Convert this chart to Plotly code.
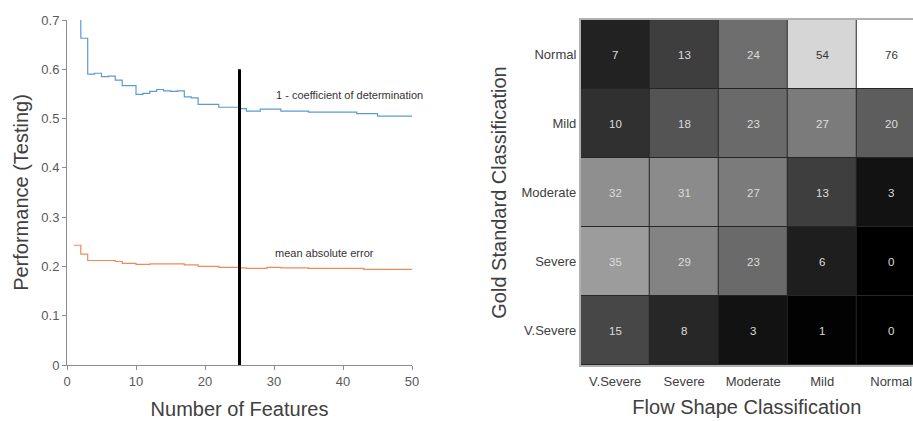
import plotly.graph_objects as go

# ---- feature-selection curves (testing performance vs number of features) ----
n_features = list(range(1, 51))

one_minus_r2 = [
    0.780, 0.663, 0.590, 0.592, 0.585, 0.586, 0.578, 0.567, 0.567, 0.549,
    0.551, 0.555, 0.559, 0.556, 0.555, 0.556, 0.544, 0.542, 0.529, 0.529,
    0.529, 0.523, 0.523, 0.523, 0.520, 0.515, 0.515, 0.519, 0.519, 0.519,
    0.515, 0.515, 0.515, 0.515, 0.513, 0.513, 0.513, 0.513, 0.513, 0.513,
    0.513, 0.510, 0.510, 0.510, 0.505, 0.505, 0.505, 0.505, 0.505, 0.505,
]

mean_abs_error = [
    0.243, 0.225, 0.212, 0.212, 0.212, 0.212, 0.210, 0.206, 0.206, 0.204,
    0.204, 0.205, 0.205, 0.205, 0.205, 0.205, 0.203, 0.203, 0.200, 0.200,
    0.200, 0.198, 0.198, 0.198, 0.197, 0.196, 0.196, 0.196, 0.198, 0.198,
    0.197, 0.197, 0.197, 0.197, 0.196, 0.196, 0.196, 0.196, 0.196, 0.196,
    0.196, 0.196, 0.194, 0.194, 0.194, 0.194, 0.194, 0.194, 0.194, 0.194,
]

selected_features = 25
cutoff_line_top = 0.6

# ---- confusion matrix: gold standard (rows) vs flow shape (columns) ----
flow_classes = ["V.Severe", "Severe", "Moderate", "Mild", "Normal"]
gold_classes = ["Normal", "Mild", "Moderate", "Severe", "V.Severe"]
counts = [
    [7, 13, 24, 54, 76],
    [10, 18, 23, 27, 20],
    [32, 31, 27, 13, 3],
    [35, 29, 23, 6, 0],
    [15, 8, 3, 1, 0],
]

FONT = "Liberation Sans, Arial, sans-serif"
TICK_COLOR = "#595959"
TITLE_COLOR = "#404040"

# grey ramp used for the count cells (count -> grey level)
zmax = 76
grey_ramp = [(0, 0), (1, 2), (3, 18), (7, 34), (13, 62), (24, 110),
             (35, 156), (54, 214), (76, 255)]
colorscale = [[c / zmax, f"rgb({g},{g},{g})"] for c, g in grey_ramp]


def grey_of(v):
    for (c0, g0), (c1, g1) in zip(grey_ramp[:-1], grey_ramp[1:]):
        if c0 <= v <= c1:
            return g0 + (g1 - g0) * (v - c0) / (c1 - c0)
    return 255


n_rows, n_cols = len(gold_classes), len(flow_classes)

fig = go.Figure()

fig.add_trace(go.Scatter(
    x=n_features, y=one_minus_r2, mode="lines", line_shape="hv",
    line=dict(color="#5b9bd5", width=1.2), showlegend=False,
    xaxis="x", yaxis="y"))
fig.add_trace(go.Scatter(
    x=n_features, y=mean_abs_error, mode="lines", line_shape="hv",
    line=dict(color="#ef8a5c", width=1.2), showlegend=False,
    xaxis="x", yaxis="y"))
fig.add_trace(go.Scatter(
    x=[selected_features, selected_features], y=[0, cutoff_line_top],
    mode="lines", line=dict(color="black", width=3), showlegend=False,
    xaxis="x", yaxis="y"))

fig.add_trace(go.Heatmap(
    z=counts, x=list(range(n_cols)), y=list(range(n_rows)),
    colorscale=colorscale, zmin=0, zmax=zmax, showscale=False,
    xgap=1, ygap=1, hoverinfo="skip", xaxis="x2", yaxis="y2"))

# dark backing behind the heatmap so the cell gaps read as thin borders
shapes = [dict(type="rect", xref="x2", yref="y2", layer="below",
               x0=-0.5, x1=n_cols - 0.5, y0=-0.5, y1=n_rows - 0.5,
               fillcolor="#262626", line=dict(width=0))]

annotations = []
for r, row in enumerate(counts):
    for c, v in enumerate(row):
        annotations.append(dict(
            x=c, y=r, xref="x2", yref="y2", text=str(v), showarrow=False,
            font=dict(family=FONT, size=11.5,
                      color="#333333" if grey_of(v) > 180 else "#dddddd")))

annotations += [
    dict(x=41, y=0.548, xref="x", yref="y", text="1 - coefficient of determination",
         showarrow=False, font=dict(family=FONT, size=11, color="#333333")),
    dict(x=37.3, y=0.228, xref="x", yref="y", text="mean absolute error",
         showarrow=False, font=dict(family=FONT, size=11, color="#333333")),
]

fig.update_layout(
    width=913, height=421,
    margin=dict(l=0, r=0, t=0, b=0, autoexpand=False),
    paper_bgcolor="white", plot_bgcolor="white",
    font=dict(family=FONT, color=TICK_COLOR),
    annotations=annotations, shapes=shapes,
    xaxis=dict(
        domain=[67 / 913, 412 / 913], range=[0, 50], anchor="y",
        tickvals=[0, 10, 20, 30, 40, 50], ticks="outside", ticklen=4,
        tickcolor="#8c8c8c", showline=True, linecolor="#8c8c8c", linewidth=1,
        showgrid=False, zeroline=False, automargin=False,
        tickfont=dict(size=13, color=TICK_COLOR),
        title=dict(text="Number of Features", standoff=14,
                   font=dict(size=20, color=TITLE_COLOR))),
    yaxis=dict(
        domain=[56 / 421, 401 / 421], range=[0, 0.7], anchor="x",
        tickvals=[0, 0.1, 0.2, 0.3, 0.4, 0.5, 0.6, 0.7], ticks="outside", ticklen=4,
        tickcolor="#8c8c8c", showline=True, linecolor="#8c8c8c", linewidth=1,
        showgrid=False, zeroline=False, automargin=False,
        tickfont=dict(size=13, color=TICK_COLOR),
        title=dict(text="Performance (Testing)", standoff=7,
                   font=dict(size=20, color=TITLE_COLOR))),
    xaxis2=dict(
        domain=[580.7 / 913, 1.0], range=[-0.5, 4.316], anchor="y2",
        tickvals=list(range(n_cols)), ticktext=flow_classes,
        ticks="", ticklabelstandoff=4,
        showline=True, mirror=True, linecolor="#b0b0b0", linewidth=1.5,
        showgrid=False, zeroline=False, automargin=False,
        tickfont=dict(size=13, color="#404040"),
        title=dict(text="Flow Shape Classification", standoff=12,
                   font=dict(size=20, color=TITLE_COLOR))),
    yaxis2=dict(
        domain=[56 / 421, 401 / 421], range=[4.5, -0.5], anchor="x2",
        tickvals=list(range(n_rows)), ticktext=gold_classes,
        ticks="", showline=True, linecolor="#b0b0b0", linewidth=1.5,
        showgrid=False, zeroline=False, automargin=False,
        tickfont=dict(size=13, color="#404040"),
        title=dict(text="Gold Standard Classification", standoff=9,
                   font=dict(size=20, color=TITLE_COLOR))),
)

fig.write_html("out.html")
